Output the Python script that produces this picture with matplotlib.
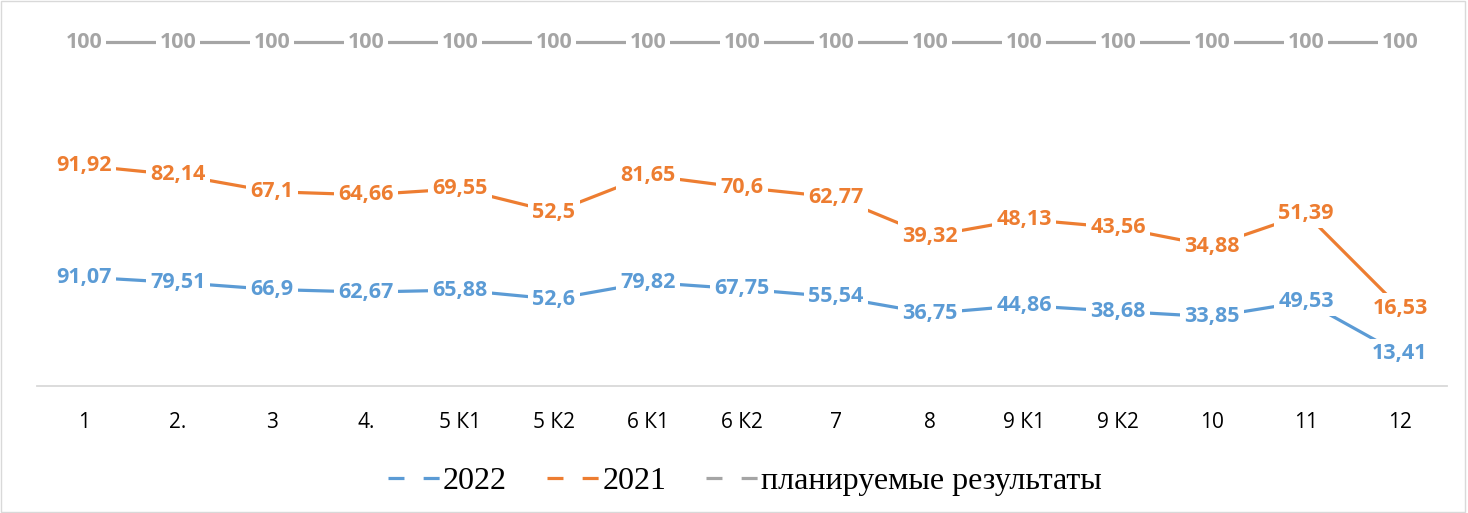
import matplotlib.pyplot as plt
import matplotlib as mpl
import numpy as np

# data
categories = ["1", "2.", "3", "4.", "5 К1", "5 К2", "6 К1", "6 К2", "7", "8",
              "9 К1", "9 К2", "10", "11", "12"]
res_2022 = [91.07, 79.51, 66.9, 62.67, 65.88, 52.6, 79.82, 67.75, 55.54,
            36.75, 44.86, 38.68, 33.85, 49.53, 13.41]
res_2021 = [91.92, 82.14, 67.1, 64.66, 69.55, 52.5, 81.65, 70.6, 62.77,
            39.32, 48.13, 43.56, 34.88, 51.39, 16.53]
planned = [100] * 15

c_2022 = "#5B9BD5"
c_2021 = "#ED7D31"
c_plan = "#A5A5A5"

def fmt(v):
    return ("%g" % v).replace(".", ",")

W, H = 1468, 513
fig = plt.figure(figsize=(W / 100, H / 100), dpi=100)
ax1 = fig.add_axes([37 / W, (H - 386) / H, 1410 / W, 366 / H])
ax2 = ax1.twinx()
ax3 = ax1.twinx()

x = np.arange(len(categories))
lw = 2.3

ax1.plot(x, res_2022, color=c_2022, lw=lw, solid_capstyle="butt")
ax2.plot(x, res_2021, color=c_2021, lw=lw, solid_capstyle="butt")
ax3.plot(x, planned, color=c_plan, lw=lw, solid_capstyle="butt")

# excel-like scales (log for the two series, separate axis for the plan)
ax1.set_yscale("log")
ax1.set_ylim(5.99, 56300)
ax2.set_yscale("log")
ax2.set_ylim(6.46, 531)
ax3.set_ylim(0, 106.4)
ax1.set_xlim(-0.5, len(categories) - 0.5)

lbl_font = dict(family="Open Sans", fontsize=15.5, fontweight="bold")
box = dict(facecolor="white", edgecolor="none", pad=3)
for ax, vals, col in [(ax1, res_2022, c_2022), (ax2, res_2021, c_2021),
                      (ax3, planned, c_plan)]:
    for xi, v in zip(x, vals):
        ax3.text(xi, v, fmt(v), transform=ax.transData, color=col,
                 ha="center", va="center", bbox=box, zorder=5, **lbl_font)

for ax in (ax1, ax2, ax3):
    for s in ("top", "left", "right", "bottom"):
        ax.spines[s].set_visible(False)
    ax.tick_params(axis="y", which="both", left=False, right=False,
                   labelleft=False, labelright=False)
ax1.spines["bottom"].set_visible(True)
ax1.spines["bottom"].set_color("#D9D9D9")
ax1.spines["bottom"].set_linewidth(1.3)

ax1.set_xticks(x)
ax1.set_xticklabels(categories, family="Open Sans", fontsize=15)
ax1.tick_params(axis="x", length=0, pad=19)

# legend
dash = (0, (5, 6))
handles = [mpl.lines.Line2D([], [], color=c, lw=lw, linestyle=dash)
           for c in (c_2022, c_2021, c_plan)]
fig.legend(handles, ["2022", "2021", "планируемые результаты"],
           loc="center", bbox_to_anchor=(745 / W, 1 - 481 / H), ncol=3,
           frameon=False, prop=dict(family="Liberation Serif", size=23),
           handlelength=1.68, handletextpad=0.05, columnspacing=1.25)

fig.patches.append(mpl.patches.Rectangle((0.001, 0.001), 0.997, 0.997,
                   transform=fig.transFigure, fill=False,
                   edgecolor="#D9D9D9", lw=1))

fig.savefig("out.png", dpi=100)
